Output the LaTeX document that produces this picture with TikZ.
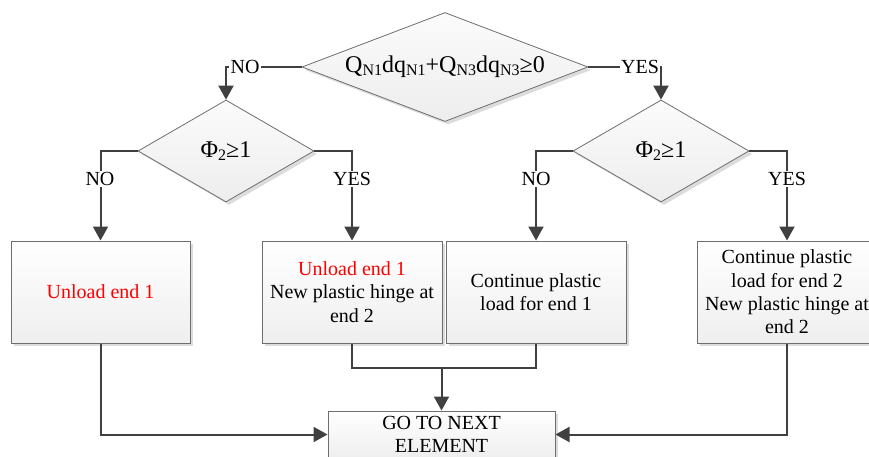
\documentclass[tikz,border=0pt]{standalone}
\usepackage{fontspec}
\setmainfont{Liberation Serif}
\usetikzlibrary{shapes.geometric,arrows.meta,shadows}

\definecolor{linecol}{HTML}{404040}
\definecolor{edgecol}{HTML}{6E6E6E}
\definecolor{shadowcol}{HTML}{DCDCDC}

% subscript as printed in the flowchart
\newcommand{\lowsub}[1]{\raisebox{-0.28ex}{\fontsize{16}{16}\selectfont #1}}

\tikzset{
  basefont/.style={font=\fontsize{20}{23.3}\selectfont},
  decision/.style={diamond, draw=edgecol, line width=0.8pt, inner sep=0pt,
    top color=gray!3, bottom color=gray!14,
    drop shadow={shadow xshift=3pt, shadow yshift=-3pt, fill=shadowcol, opacity=1},
    font=\fontsize{24}{26}\selectfont},
  process/.style={rectangle, draw=edgecol, line width=1pt, inner sep=2pt,
    top color=white, bottom color=gray!13,
    drop shadow={shadow xshift=3pt, shadow yshift=-3pt, fill=shadowcol, opacity=1},
    minimum width=180pt, minimum height=102pt, align=center, basefont},
  conn/.style={draw=linecol, line width=2pt},
  arr/.style={conn, -{Triangle[length=14pt,width=15pt]}},
  lbl/.style={fill=white, inner sep=1.5pt, basefont},
}

\begin{document}
\begin{tikzpicture}[x=1pt,y=-1pt]
\useasboundingbox (0,0) rectangle (869,457);
\clip (0,0) rectangle (869,457);

% decisions
\node[decision, shape aspect=2.62, minimum width=286pt, minimum height=109pt] (top) at (445,67)
  {Q\lowsub{N1}dq\lowsub{N1}+Q\lowsub{N3}dq\lowsub{N3}≥0};
\node[decision, shape aspect=1.72, minimum width=176pt, minimum height=102pt] (dl) at (226,151)
  {Φ\lowsub{2}≥1};
\node[decision, shape aspect=1.72, minimum width=176pt, minimum height=102pt] (dr) at (661,151)
  {Φ\lowsub{2}≥1};

% actions
\node[process, minimum width=179pt] (b1) at (100.5,292) {\textcolor{red}{Unload end 1}};
\node[process] (b2) at (352,292)
  {\textcolor{red}{Unload end 1}\\New plastic hinge at\\end 2};
\node[process] (b3) at (536,292) {Continue plastic\\load for end 1};
\node[process] (b4) at (787,292)
  {Continue plastic\\load for end 2\\New plastic hinge at\\end 2};
\node[process, minimum width=227pt, minimum height=47pt, inner sep=1pt] (next) at (441.5,434.5)
  {GO TO NEXT\\ELEMENT};

% connectors
\draw[arr] (top.west) -| (dl.north);
\draw[arr] (top.east) -| (dr.north);
\draw[arr] (dl.west) -| (b1.north);
\draw[arr] (dl.east) -| (b2.north);
\draw[arr] (dr.west) -| (b3.north);
\draw[arr] (dr.east) -| (b4.north);

\coordinate (join) at (441.5,368);
\draw[conn] (b2.south) |- (join) -| (b3.south);
\draw[arr] (join) -- (next.north);
\draw[arr] (b1.south) |- (next.west);
\draw[arr] (b4.south) |- (next.east);

% branch labels
\node[lbl] (lnoA) at (245,67) {NO};
\node[lbl] (lyesA) at (640,67) {YES};
\node[lbl] (lnoB) at (100,179) {NO};
\node[lbl] (lyesB) at (352,179) {YES};
\node[lbl] (lnoC) at (536,179) {NO};
\node[lbl] (lyesC) at (787,179) {YES};
\end{tikzpicture}
\end{document}
